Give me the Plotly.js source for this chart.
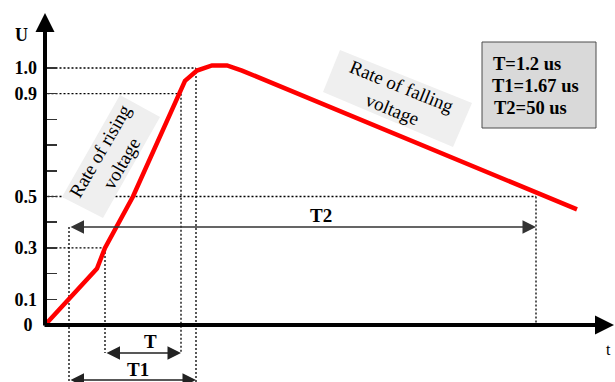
<!DOCTYPE html>
<html>
<head>
<meta charset="utf-8">
<script src="https://cdn.plot.ly/plotly-3.0.1.min.js"></script>
<style>
  html, body { margin: 0; padding: 0; background: #fff; }
  #chart { width: 615px; height: 382px; }
</style>
</head>
<body>
<div id="chart"></div>
<script>
// impulse voltage wave (time in arbitrary units, U relative)
var timePts = [0, 2.4, 5.2, 6.0, 7.3, 8.8, 14.0, 15.2, 16.7, 18.2, 19.7, 53.2];
var voltPts = [0, 0.1, 0.22, 0.3, 0.39, 0.5, 0.95, 0.99, 1.01, 1.01, 0.99, 0.45];

// y axis ticks
var uTicks = [0, 0.1, 0.2, 0.3, 0.4, 0.5, 0.6, 0.7, 0.8, 0.9, 1.0];
var uTickText = ['0\u00a0', '0.1', '', '0.3', '', '0.5', '', '', '', '0.9', '1.0'];

// characteristic times on the curve
var t10 = 2.4;   // 0.1 crossing (virtual origin)
var t30 = 6.0;   // 0.3 crossing
var t90 = 13.6;  // 0.9 crossing
var t100 = 15.1; // crest
var t50 = 49.1;  // half value on the tail

var infoLines = ['T=1.2 us', 'T1=1.67 us', 'T2=50 us'];

// pixel -> data helpers for the decorations
function X(px) { return (px - 45) / 10; }
function Y(py) { return (325 - py) / 257; }

var serif = 'Liberation Serif, Times New Roman, serif';
var dotted = {color: '#000', width: 1.3, dash: '2px,2px'};

var trace = {
  x: timePts,
  y: voltPts,
  type: 'scatter',
  mode: 'lines',
  line: {color: '#ff0000', width: 4.5},
  hoverinfo: 'skip'
};

var shapes = [];
function hline(u, t1) {
  shapes.push({type: 'line', xref: 'x', yref: 'y', x0: 0.25, x1: t1, y0: u, y1: u, line: dotted, layer: 'below'});
}
function vline(t, u0, u1) {
  shapes.push({type: 'line', xref: 'x', yref: 'y', x0: t, x1: t, y0: u0, y1: u1, line: dotted, layer: 'below'});
}
hline(1.0, t100);
hline(0.9, t90);
hline(0.5, t50);
hline(0.3, t30);
vline(t10, Y(227), Y(384));
vline(t30, 0.3, Y(353));
vline(t90, 0.9, Y(353));
vline(t100, 1.0, Y(384));
vline(t50, 0.5, 0);

// grey label boxes (rotated)
function poly(pts) {
  return 'M' + pts.map(function (p) { return X(p[0]) + ',' + Y(p[1]); }).join('L') + 'Z';
}
shapes.push({type: 'path', xref: 'x', yref: 'y', path: poly([[120, 95], [160, 117], [103, 218], [62, 197]]),
  fillcolor: '#efefef', line: {width: 0}, layer: 'below'});
shapes.push({type: 'path', xref: 'x', yref: 'y', path: poly([[340, 50], [472, 103], [453, 147], [323, 92]]),
  fillcolor: '#efefef', line: {width: 0}, layer: 'below'});
// info box
shapes.push({type: 'rect', xref: 'x', yref: 'y', x0: X(482), x1: X(596), y0: Y(42), y1: Y(128),
  fillcolor: '#d9d9d9', line: {color: '#4d4d4d', width: 1}, layer: 'above'});

var annotations = [];
function arrow(x0, y0, x1, y1, w, size, color, both) {
  annotations.push({
    x: x1, y: y1, ax: x0, ay: y0, xref: 'x', yref: 'y', axref: 'x', ayref: 'y',
    text: '', showarrow: true, arrowhead: 2, arrowsize: size, arrowwidth: w, arrowcolor: color,
    startarrowhead: 2, startarrowsize: size, arrowside: both ? 'end+start' : 'end'
  });
}
// axes
arrow(0, Y(327), 0, Y(13), 4, 0.95, '#000', false);
arrow(-0.2, 0, X(614), 0, 4, 0.95, '#000', false);
// time spans
arrow(t10, Y(227), t50, Y(227), 1.5, 1.8, '#333', true);
arrow(t30, Y(353), t90, Y(353), 1.5, 1.8, '#222', true);
arrow(t10, Y(380), t100, Y(380), 1.5, 1.8, '#222', true);

function label(txt, px, py, size, bold, angle, anchor) {
  annotations.push({
    x: X(px), y: Y(py), xref: 'x', yref: 'y', text: txt, showarrow: false,
    xanchor: anchor || 'center', yanchor: 'middle', textangle: angle || 0,
    font: {family: serif, size: size, color: '#000', weight: bold ? 'bold' : 'normal'}
  });
}
label('U', 21, 35, 18, true);
label('t', 604, 349, 16, false, 0, 'left');
label('T', 150, 341, 19, true);
label('T1', 138, 369, 19, true);
label('T2', 321, 215, 19, true);
label('Rate of rising<br>voltage', 111, 157, 19, false, -60);
label('Rate of falling<br>voltage', 397, 98, 19, false, 22);
label(infoLines[0], 491, 64, 18.5, true, 0, 'left');
label(infoLines[1], 490, 86, 18.5, true, 0, 'left');
label(infoLines[2], 492, 108, 18.5, true, 0, 'left');

var layout = {
  width: 615,
  height: 382,
  margin: {l: 0, r: 0, t: 0, b: 0},
  paper_bgcolor: '#fff',
  plot_bgcolor: '#fff',
  showlegend: false,
  xaxis: {range: [X(0), X(615)], visible: false, fixedrange: true},
  yaxis: {
    range: [Y(382), Y(0)],
    anchor: 'free',
    position: 45 / 615,
    tickmode: 'array',
    tickvals: uTicks,
    ticktext: uTickText,
    ticks: 'inside',
    ticklen: 11,
    tickwidth: 1.5,
    tickcolor: '#333',
    ticklabelstandoff: 8,
    showline: false,
    showgrid: false,
    zeroline: false,
    tickfont: {family: serif, size: 18, color: '#000', weight: 'bold'},
    fixedrange: true
  },
  shapes: shapes,
  annotations: annotations
};

Plotly.newPlot('chart', [trace], layout, {displayModeBar: false, staticPlot: true});
</script>
</body>
</html>
